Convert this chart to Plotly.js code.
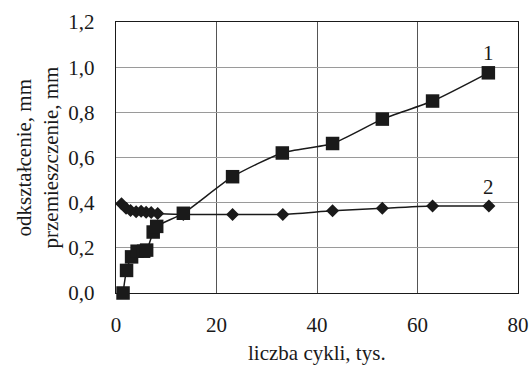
<!DOCTYPE html>
<html>
<head>
<meta charset="utf-8">
<script src="https://cdn.plot.ly/plotly-3.0.1.min.js"></script>
<style>html,body{margin:0;padding:0;background:#fff;}#chart{width:531px;height:365px;}</style>
</head>
<body>
<div id="chart"></div>
<script>
// Series 1 (squares)
var cycles1 = [1.4, 2.1, 3.1, 4.2, 5.5, 6.1, 7.4, 8.1, 13.4, 23.2, 33.1, 43.1, 53.0, 63.0, 74.1];
var values1 = [0.0, 0.10, 0.16, 0.185, 0.185, 0.19, 0.27, 0.295, 0.353, 0.515, 0.62, 0.662, 0.77, 0.85, 0.975];
// Series 2 (diamonds)
var cycles2 = [1.1, 2.0, 2.9, 4.0, 5.0, 6.0, 7.0, 8.3, 13.4, 23.2, 33.2, 43.1, 53.0, 63.0, 74.2];
var values2 = [0.395, 0.375, 0.365, 0.36, 0.362, 0.358, 0.357, 0.352, 0.348, 0.348, 0.348, 0.364, 0.375, 0.385, 0.385];
var seriesLabels = ["1", "2"];
var xTitle = "liczba cykli, tys.";
var yTitle1 = "odkształcenie, mm";
var yTitle2 = "przemieszczenie, mm";

var font = "'Liberation Serif', 'DejaVu Serif', serif";
var ink = "#1a1a1a";

var traces = [
  {x: cycles2, y: values2, type: "scatter", mode: "lines+markers",
   line: {color: ink, width: 1.5, shape: "spline", smoothing: 0.6},
   marker: {symbol: "diamond", size: 10, color: ink},
   cliponaxis: false, showlegend: false},
  {x: cycles1, y: values1, type: "scatter", mode: "lines+markers",
   line: {color: ink, width: 1.5, shape: "spline", smoothing: 0.6},
   marker: {symbol: "square", size: 13.5, color: ink},
   cliponaxis: false, showlegend: false}
];

var layout = {
  width: 531, height: 365,
  margin: {l: 116, r: 13, t: 22, b: 72},
  paper_bgcolor: "#fff", plot_bgcolor: "#fff",
  separators: ", ",
  font: {family: font, size: 21, color: ink},
  xaxis: {
    range: [0, 80], tickvals: [0, 20, 40, 60, 80], showgrid: true,
    gridcolor: "#555", gridwidth: 1, zeroline: false,
    showline: true, linecolor: ink, linewidth: 1.2, mirror: true,
    ticks: "", ticklabelstandoff: 13,
    tickfont: {family: font, size: 21, color: ink}
  },
  yaxis: {
    range: [0, 1.2], tickvals: [0, 0.2, 0.4, 0.6, 0.8, 1.0, 1.2], tickformat: ".1f",
    showgrid: true, gridcolor: "#9a9a9a", gridwidth: 1, zeroline: false,
    showline: true, linecolor: ink, linewidth: 1.2, mirror: true,
    ticks: "", ticklabelstandoff: 16,
    tickfont: {family: font, size: 21, color: ink}
  },
  annotations: [
    {text: seriesLabels[0], x: 74.2, y: 1.062, xref: "x", yref: "y", showarrow: false,
     font: {family: font, size: 21, color: ink}},
    {text: seriesLabels[1], x: 74.2, y: 0.47, xref: "x", yref: "y", showarrow: false,
     font: {family: font, size: 21, color: ink}},
    {text: xTitle, x: 0.5, y: -0.2196, xref: "paper", yref: "paper", showarrow: false,
     xanchor: "center", yanchor: "middle", font: {family: font, size: 21, color: ink}},
    {text: yTitle1, x: -0.2289, y: 0.5, xref: "paper", yref: "paper", showarrow: false,
     textangle: -90, xanchor: "center", yanchor: "middle", font: {family: font, size: 21, color: ink}},
    {text: yTitle2, x: -0.1617, y: 0.5, xref: "paper", yref: "paper", showarrow: false,
     textangle: -90, xanchor: "center", yanchor: "middle", font: {family: font, size: 21, color: ink}}
  ]
};

Plotly.newPlot("chart", traces, layout, {displayModeBar: false, staticPlot: true});
</script>
</body>
</html>
